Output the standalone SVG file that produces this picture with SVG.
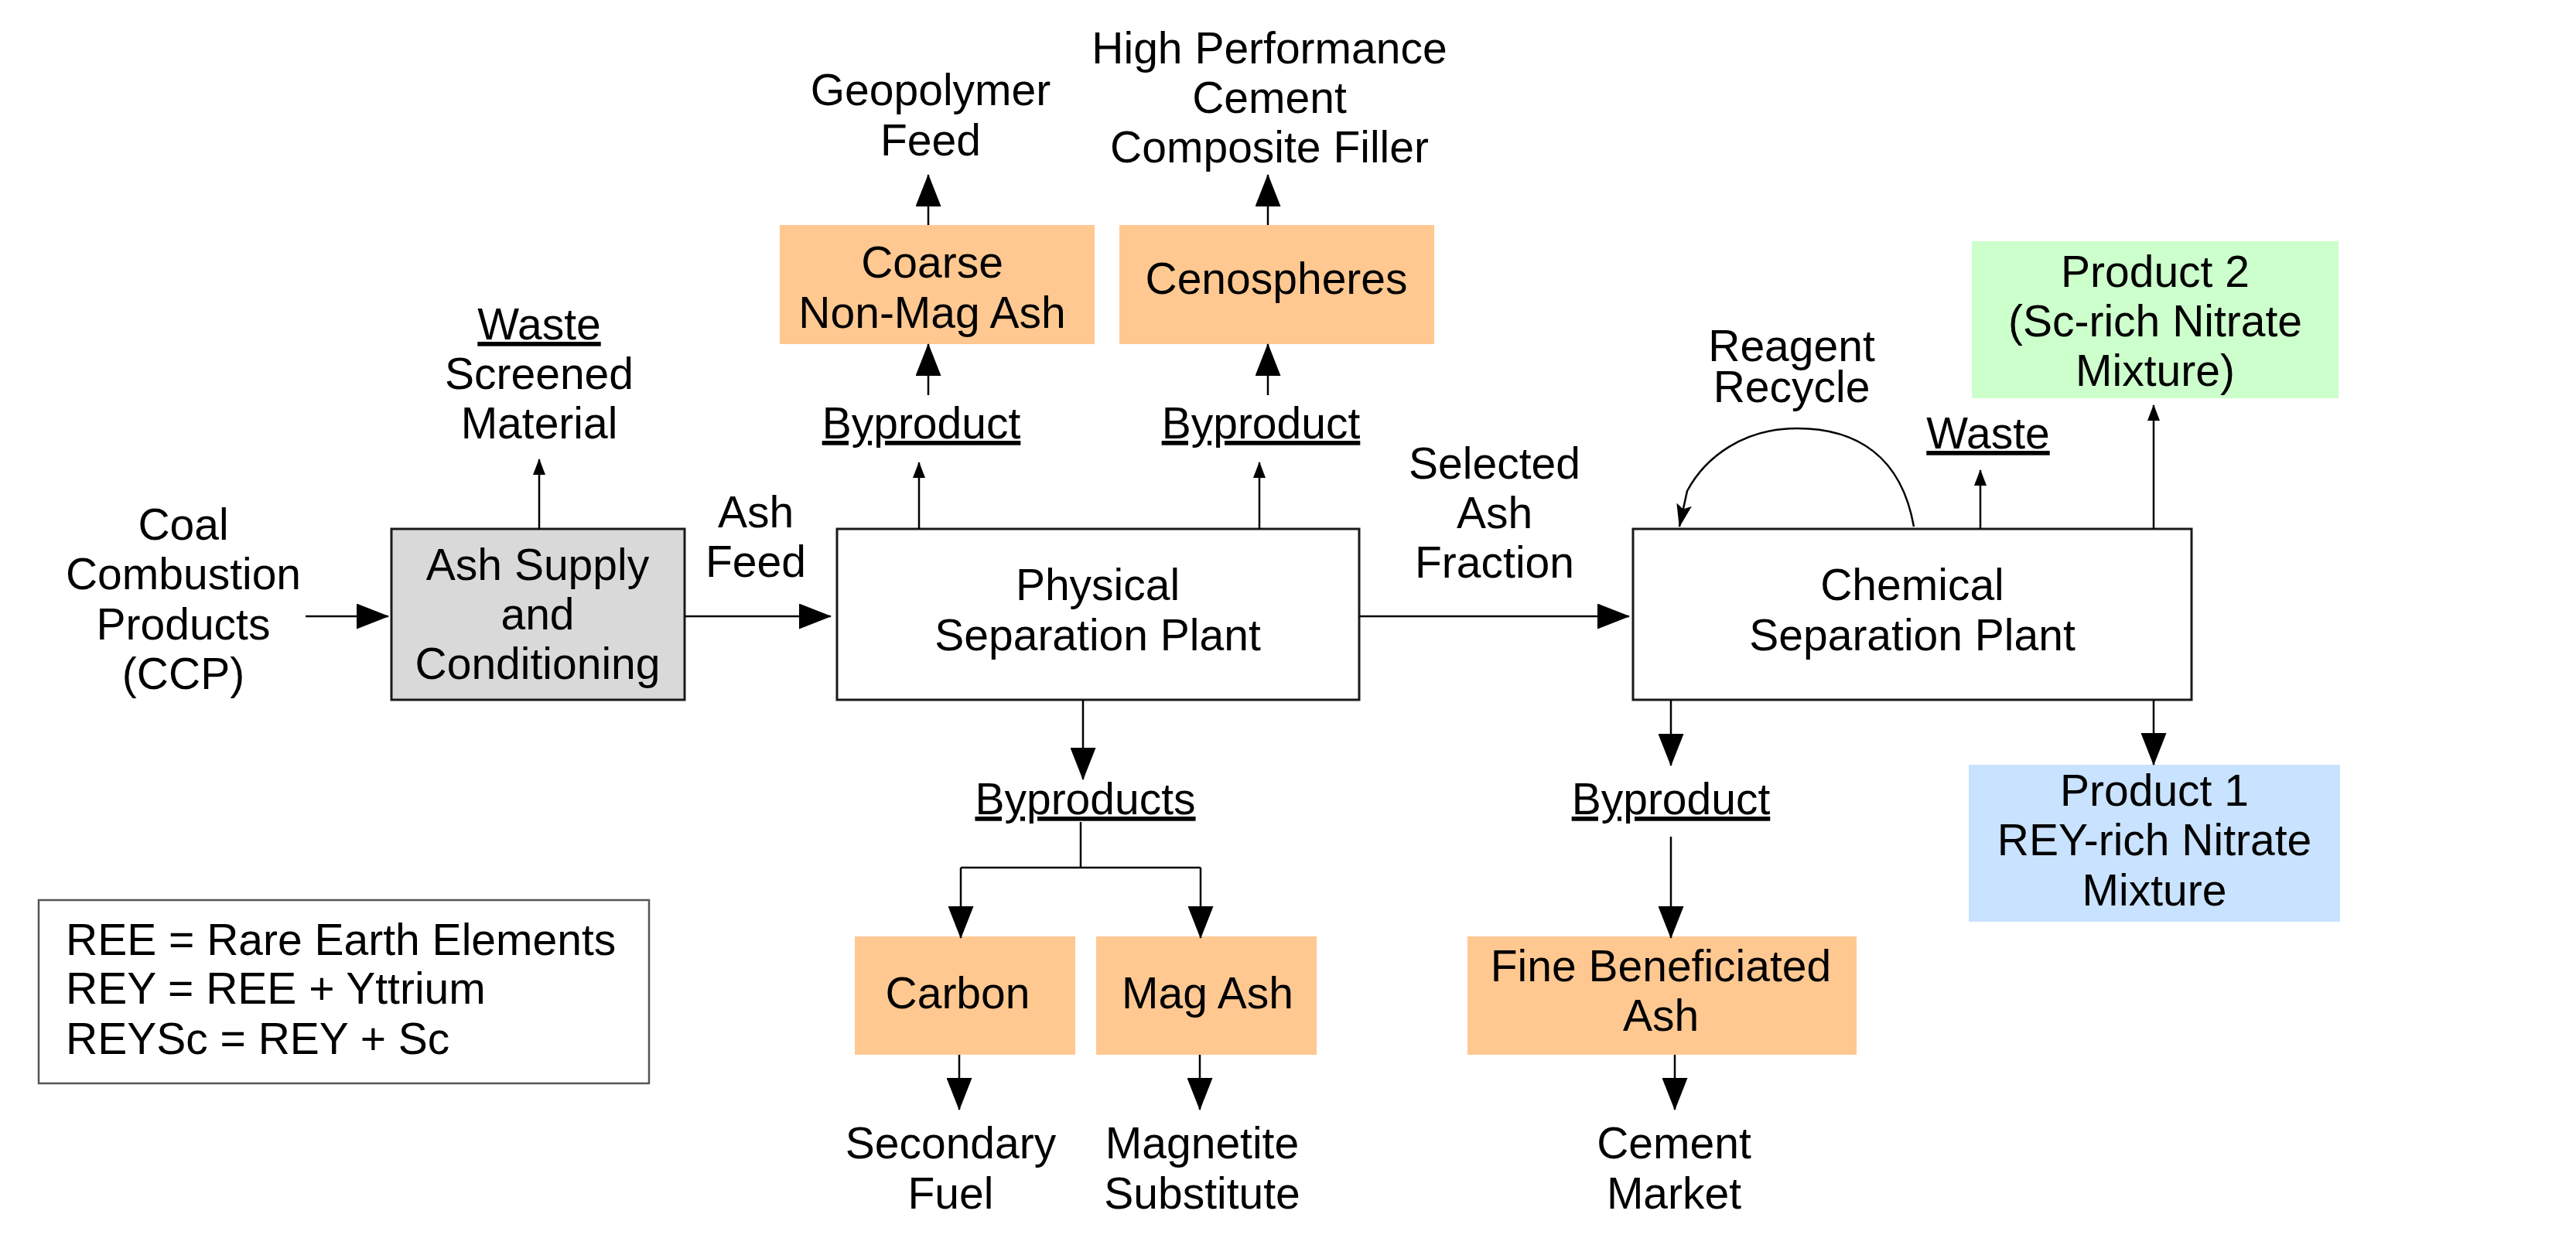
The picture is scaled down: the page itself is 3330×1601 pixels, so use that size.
<svg xmlns="http://www.w3.org/2000/svg" width="3330" height="1601" viewBox="0 0 3330 1601">
<style>
text{font-family:"Liberation Sans",Arial,sans-serif;font-size:57px;fill:#000;text-anchor:middle}
.u{text-decoration:underline}
.lg{text-anchor:start}
.box{stroke:#1a1a1a;stroke-width:3}
.c{stroke:#000;stroke-width:2.5;fill:none}
.big{marker-end:url(#big)}
.sm{marker-end:url(#sm)}
</style>
<defs>
<marker id="big" viewBox="0 0 42 33" refX="41" refY="16.5" markerWidth="42" markerHeight="33" markerUnits="userSpaceOnUse" orient="auto"><path d="M0,0L42,16.5L0,33z" fill="#000"/></marker>
<marker id="sm" viewBox="0 0 21 16" refX="20" refY="8" markerWidth="21" markerHeight="16" markerUnits="userSpaceOnUse" orient="auto"><path d="M0,0L21,8L0,16z" fill="#000"/></marker>
<marker id="barb" viewBox="0 0 30 20" refX="29" refY="10" markerWidth="30" markerHeight="20" markerUnits="userSpaceOnUse" orient="auto"><path d="M0,0L30,10L0,20L6,10z" fill="#000"/></marker>
</defs>
<rect width="3330" height="1601" fill="#fff"/>

<g id="ccp"><text x="237" y="698">Coal</text><text x="237" y="762">Combustion</text><text x="237" y="827">Products</text><text x="237" y="891">(CCP)</text></g>

<g id="ash-supply"><rect class="box" x="506" y="684" width="379" height="221" fill="#d9d9d9"/><text x="695" y="750">Ash Supply</text><text x="695" y="814">and</text><text x="695" y="878">Conditioning</text></g>

<g id="waste1"><text class="u" x="697" y="439">Waste</text><text x="697" y="503">Screened</text><text x="697" y="567">Material</text></g>

<g id="ash-feed"><text x="977" y="682">Ash</text><text x="977" y="746">Feed</text></g>

<g id="physical"><rect class="box" x="1082" y="684" width="675" height="221" fill="#fff"/><text x="1419" y="776">Physical</text><text x="1419" y="841">Separation Plant</text></g>

<g id="byproduct-a"><text class="u" x="1191" y="567">Byproduct</text></g>
<g id="coarse"><rect x="1008" y="291" width="407" height="154" fill="#ffc891"/><text x="1205" y="359">Coarse</text><text x="1205" y="424">Non-Mag Ash</text></g>
<g id="geopolymer"><text x="1203" y="136">Geopolymer</text><text x="1203" y="201">Feed</text></g>

<g id="byproduct-b"><text class="u" x="1630" y="567">Byproduct</text></g>
<g id="cenospheres"><rect x="1447" y="291" width="407" height="154" fill="#ffc891"/><text x="1650" y="380">Cenospheres</text></g>
<g id="hpc"><text x="1641" y="82">High Performance</text><text x="1641" y="146">Cement</text><text x="1641" y="210">Composite Filler</text></g>

<g id="selected"><text x="1932" y="619">Selected</text><text x="1932" y="683">Ash</text><text x="1932" y="747">Fraction</text></g>

<g id="chemical"><rect class="box" x="2111" y="684" width="722" height="221" fill="#fff"/><text x="2472" y="776">Chemical</text><text x="2472" y="841">Separation Plant</text></g>

<g id="reagent"><text x="2316" y="467">Reagent</text><text x="2316" y="520">Recycle</text></g>
<g id="waste2"><text class="u" x="2570" y="580">Waste</text></g>

<g id="product2"><rect x="2549" y="312" width="474" height="203" fill="#ccffcc"/><text x="2786" y="371">Product 2</text><text x="2786" y="435">(Sc-rich Nitrate</text><text x="2786" y="499">Mixture)</text></g>

<g id="product1"><rect x="2545" y="989" width="480" height="203" fill="#c9e2ff"/><text x="2785" y="1042">Product 1</text><text x="2785" y="1106">REY-rich Nitrate</text><text x="2785" y="1171">Mixture</text></g>

<g id="byproduct-c"><text class="u" x="2160" y="1053">Byproduct</text></g>
<g id="fine-ash"><rect x="1897" y="1211" width="503" height="153" fill="#ffc891"/><text x="2147" y="1269">Fine Beneficiated</text><text x="2147" y="1333">Ash</text></g>
<g id="cement-market"><text x="2164" y="1498">Cement</text><text x="2164" y="1563">Market</text></g>

<g id="byproducts"><text class="u" x="1403" y="1053">Byproducts</text></g>
<g id="carbon"><rect x="1105" y="1211" width="285" height="153" fill="#ffc891"/><text x="1238" y="1304">Carbon</text></g>
<g id="mag-ash"><rect x="1417" y="1211" width="285" height="153" fill="#ffc891"/><text x="1561" y="1304">Mag Ash</text></g>
<g id="secondary-fuel"><text x="1229" y="1498">Secondary</text><text x="1229" y="1563">Fuel</text></g>
<g id="magnetite"><text x="1554" y="1498">Magnetite</text><text x="1554" y="1563">Substitute</text></g>

<g id="legend"><rect x="50" y="1164" width="789" height="237" fill="#fff" stroke="#555" stroke-width="2.5"/><text class="lg" x="85" y="1235">REE = Rare Earth Elements</text><text class="lg" x="85" y="1298">REY = REE + Yttrium</text><text class="lg" x="85" y="1363">REYSc = REY + Sc</text></g>

<g id="connectors">
<line class="c big" x1="395" y1="797" x2="502" y2="797"/>
<line class="c big" x1="885" y1="797" x2="1074" y2="797"/>
<line class="c sm" x1="697" y1="684" x2="697" y2="594"/>
<line class="c sm" x1="1188" y1="684" x2="1188" y2="598"/>
<line class="c big" x1="1200" y1="511" x2="1200" y2="445"/>
<line class="c big" x1="1200" y1="291" x2="1200" y2="226"/>
<line class="c sm" x1="1628" y1="684" x2="1628" y2="598"/>
<line class="c big" x1="1639" y1="511" x2="1639" y2="445"/>
<line class="c big" x1="1639" y1="291" x2="1639" y2="226"/>
<line class="c big" x1="1757" y1="797" x2="2106" y2="797"/>
<line class="c big" x1="1400" y1="905" x2="1400" y2="1008"/>
<polyline class="c" points="1397,1063 1397,1122"/>
<line class="c" x1="1242" y1="1122" x2="1552" y2="1122"/>
<line class="c big" x1="1242" y1="1122" x2="1242" y2="1213"/>
<line class="c big" x1="1552" y1="1122" x2="1552" y2="1213"/>
<line class="c big" x1="1240" y1="1364" x2="1240" y2="1435"/>
<line class="c big" x1="1551" y1="1364" x2="1551" y2="1435"/>
<line class="c big" x1="2160" y1="905" x2="2160" y2="990"/>
<line class="c big" x1="2160" y1="1082" x2="2160" y2="1213"/>
<line class="c big" x1="2165" y1="1364" x2="2165" y2="1435"/>
<line class="c big" x1="2784" y1="905" x2="2784" y2="989"/>
<line class="c sm" x1="2784" y1="684" x2="2784" y2="524"/>
<line class="c sm" x1="2560" y1="684" x2="2560" y2="608"/>
<path class="c" d="M2474,681 C2458,590 2400,554 2323,554 C2255,554 2205,590 2181,635 L2171,681" marker-end="url(#barb)"/>
</g>
</svg>
